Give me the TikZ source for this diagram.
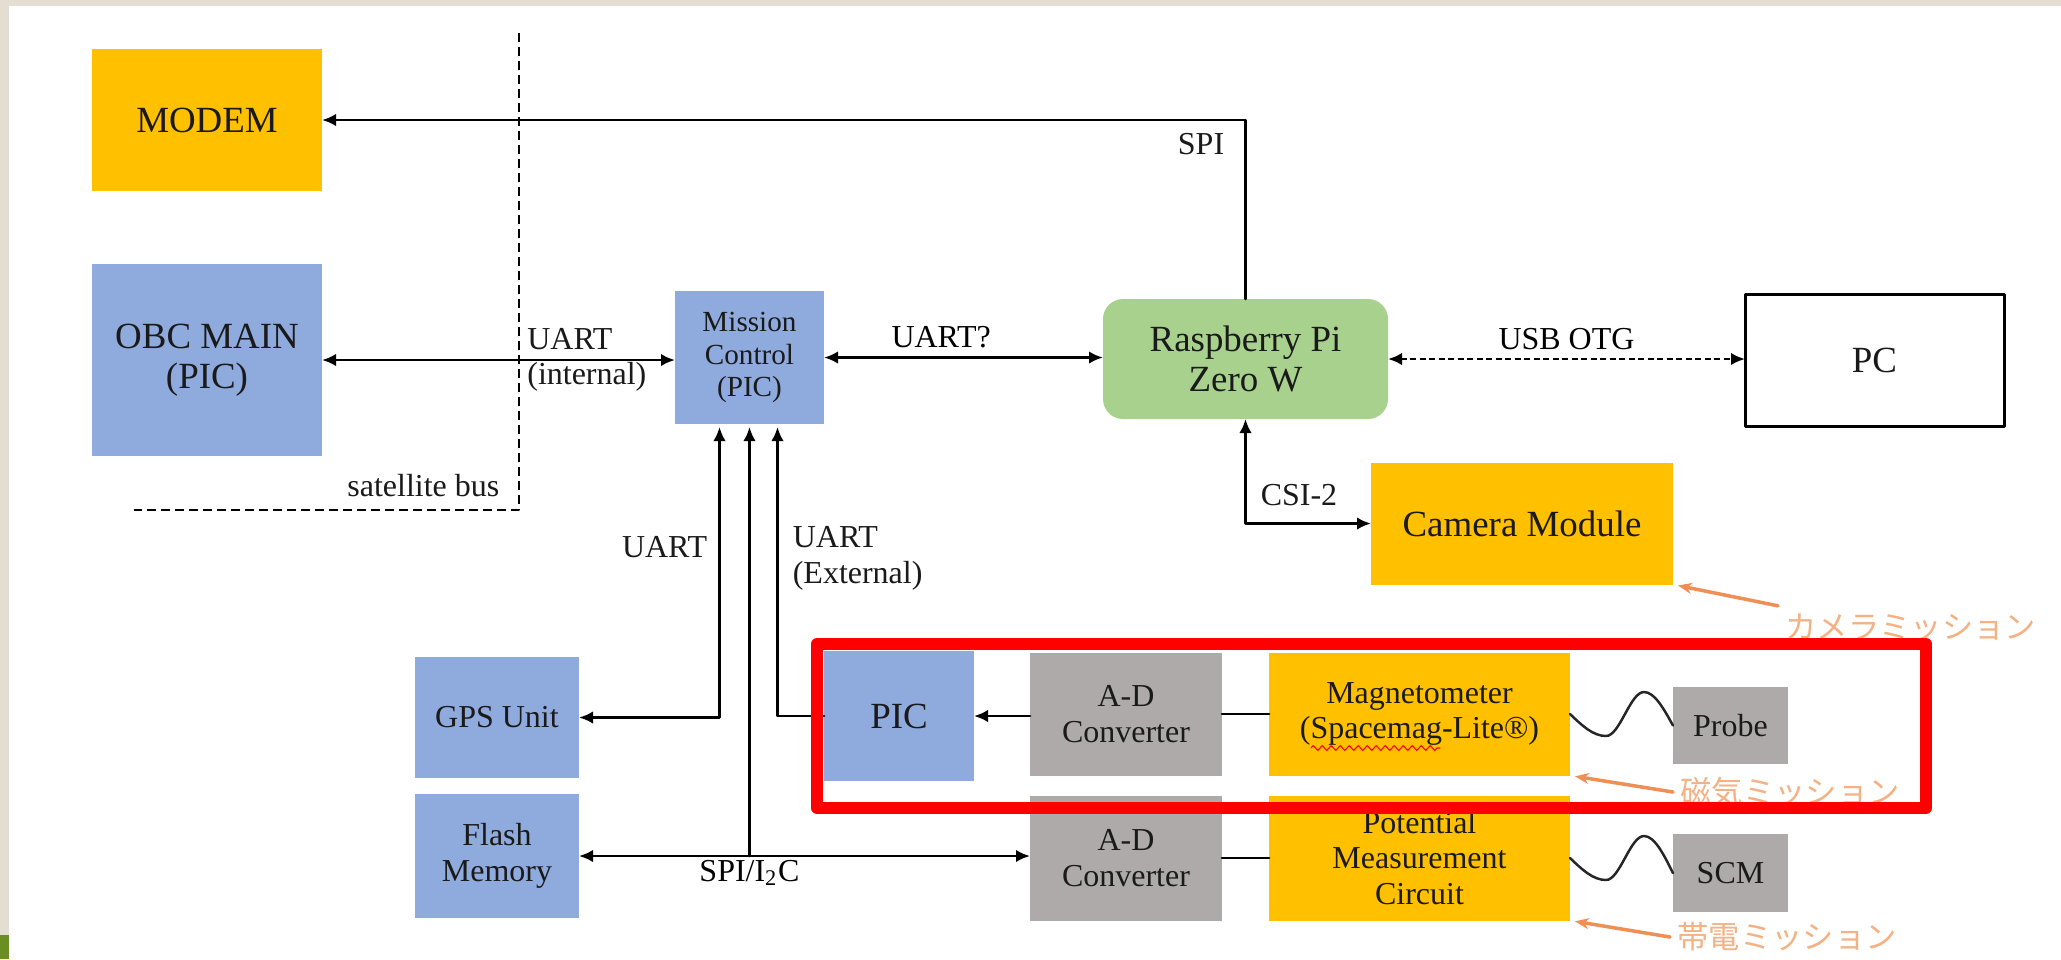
\documentclass[tikz,border=0pt]{standalone}
\usepackage{fontspec}
\setmainfont{Liberation Serif}
\newfontfamily\jpfont{Noto Sans CJK JP}
\usepackage{tikz}
\usetikzlibrary{arrows.meta,positioning,calc,decorations.pathmorphing}
\definecolor{amber}{HTML}{FFC000}
\definecolor{picblue}{HTML}{8FAADC}
\definecolor{rpigreen}{HTML}{A9D18E}
\definecolor{adcgray}{HTML}{AEAAAA}
\definecolor{alertred}{HTML}{FF0000}
\definecolor{notetext}{HTML}{F4B183}
\definecolor{noteline}{HTML}{EF8F55}
\definecolor{slidebeige}{HTML}{E4DDD2}
\definecolor{slidegreen}{HTML}{6B8E23}
\definecolor{ink}{HTML}{1A1A1A}
\newcommand{\boxfont}{\fontsize{10.5pt}{11.4pt}\selectfont}
\newcommand{\labelfont}{\fontsize{9.1pt}{10.1pt}\selectfont}
\newcommand{\mcfont}{\fontsize{8.3pt}{9.2pt}\selectfont}
\newcommand{\notefont}{\fontsize{8.9pt}{10pt}\selectfont}
\tikzset{
    every picture/.style={line cap=round,line join=round},
    unitbox/.style={inner sep=0pt,outer sep=0pt,align=center,
      font=\labelfont,text=ink},
    bigbox/.style={unitbox,font=\boxfont},
    plainlink/.style={draw=black,line width=0.75pt},
    wavelink/.style={draw=black!85,line width=0.7pt},
    buslabel/.style={font=\labelfont,inner sep=0pt,align=left,text=ink},
    busline/.style={draw=black,line width=0.6pt,line cap=butt,
      dash pattern=on 0.9mm off 0.5mm},
    usbline/.style={line cap=butt,dash pattern=on 0.6mm off 0.35mm},
    notelabel/.style={font=\notefont,text=notetext,inner sep=0.7mm},
    notearrow/.style={-{Stealth[length=1.4mm,width=1.1mm]},draw=noteline,
      line width=0.35mm,shorten >=0.5mm}
}
\begin{document}
\begin{tikzpicture}[x=0.1mm,y=-0.1mm,>={Latex[length=1.4mm,width=1.25mm]}]
  % slide frame
  \useasboundingbox (0,0) rectangle (2061,959);
  \fill[white] (0,0) rectangle (2061,959);
  \fill[slidebeige] (0,0) rectangle (2061,6);
  \fill[slidebeige] (0,0) rectangle (9,935);
  \fill[slidegreen] (0,935) rectangle (9,959);

  % satellite bus boundary
  \coordinate (bustop) at (519,33);
  \coordinate (buscorner) at (519,510);
  \coordinate (busend) at (134,510);
  \draw[busline] (bustop) -- (buscorner) -- (busend);
  \node[buslabel,anchor=south east,xshift=-1.9mm,yshift=1.3mm] (buslbl) at (buscorner) {satellite bus};

  % units
  \node[bigbox,fill=amber,minimum width=23mm,minimum height=14.2mm] (modem) at (207,120) {MODEM};
  \node[bigbox,fill=picblue,minimum width=23mm,minimum height=19.2mm] (obc) at (207,360) {OBC MAIN\\(PIC)};
  \node[unitbox,font=\mcfont,fill=picblue,minimum width=14.9mm,minimum height=13.3mm] (mc) at (749.5,357.5) {Mission\\Control\\(PIC)};
  \node[bigbox,fill=rpigreen,rounded corners=2mm,minimum width=28.5mm,minimum height=12mm] (rpi) at (1245.5,359) {Raspberry Pi\\Zero W};
  \node[bigbox,draw=black,line width=0.3mm,fill=white,minimum width=25.9mm,minimum height=13.2mm] (pc) at (1874.5,360) {PC};
  \node[bigbox,fill=amber,minimum width=30.2mm,minimum height=12.2mm] (cam) at (1522,523.5) {Camera Module};
  \node[unitbox,fill=picblue,minimum width=16.4mm,minimum height=12.1mm] (gps) at (497,717.5) {GPS Unit};
  \node[unitbox,fill=picblue,minimum width=16.4mm,minimum height=12.4mm,below=1.6mm of gps] (flash) {Flash\\Memory};
  \node[bigbox,fill=picblue,minimum width=15mm,minimum height=13mm] (pic) at (899,716) {PIC};
  \node[unitbox,fill=adcgray,minimum width=19.2mm,minimum height=12.3mm] (adc1) at (1126,714) {A-D\\Converter};
  \node[unitbox,fill=amber,minimum width=30.1mm,minimum height=12.3mm,right=4.7mm of adc1] (mag) {Magnetometer\\(Spacemag-Lite®)};
  \node[unitbox,fill=adcgray,minimum width=11.5mm,minimum height=7.7mm,right=10.3mm of mag,yshift=-1.15mm] (probe) {Probe};
  \node[unitbox,fill=adcgray,minimum width=19.2mm,minimum height=12.5mm,below=2mm of adc1] (adc2) {A-D\\Converter};
  \node[unitbox,fill=amber,minimum width=30.1mm,minimum height=12.5mm,below=2mm of mag] (pmc) {Potential\\Measurement\\Circuit};
  \node[unitbox,fill=adcgray,minimum width=11.5mm,minimum height=7.8mm,right=10.3mm of pmc,yshift=-1.5mm] (scm) {SCM};

  % links
  \draw[->,plainlink] (rpi.north) |- (modem.east)
    node[pos=0.5,anchor=north east,buslabel,xshift=-2mm,yshift=-1.2mm] (spilbl) {SPI};
  \draw[<->,plainlink] (obc.east) -- (obc.east -| mc.west)
    node[pos=0.578,anchor=west,buslabel] (uartin) {UART\\(internal)};
  \draw[<->,plainlink] (mc.east) -- (mc.east -| rpi.west)
    node[pos=0.42,above,inner sep=0.8mm,font=\labelfont] (uartq) {UART?};
  \draw[<->,plainlink,usbline] (rpi.east) -- (rpi.east -| pc.west)
    node[midway,above,inner sep=0.8mm,font=\labelfont] (usblbl) {USB OTG};
  \draw[<->,plainlink] (rpi.south) |- (cam.west)
    node[pos=0.5,anchor=south west,buslabel,xshift=1.4mm,yshift=1.6mm] (csilbl) {CSI-2};

  % into Mission Control from below
  \coordinate (mcA) at ([xshift=-3mm]mc.south);
  \coordinate (mcC) at ([xshift=2.8mm]mc.south);
  \draw[<->,plainlink,shorten >=0.3mm] (gps.east) -| (mcA)
    node[pos=0.79,anchor=east,buslabel,xshift=-1.1mm] (uartgps) {UART};
  \draw[->,plainlink,shorten >=0.3mm] (pic.west) -| (mcC)
    node[pos=0.77,anchor=west,buslabel,xshift=1.4mm] (uartex) {UART\\(External)};
  \draw[<->,plainlink] (flash.east) -- (flash.east -| adc2.west);
  \draw[->,plainlink,shorten >=0.3mm] (mc.south |- flash.east) -- (mc.south);
  \node[anchor=north,font=\labelfont,inner sep=0.4mm] (spii2c) at (mc.south |- flash.east) {SPI/I\textsubscript{2}C};

  % mission chains
  \draw[->,plainlink] (adc1.west |- pic.east) -- (pic.east);
  \draw[plainlink] (adc1.east) -- (mag.west);
  \draw[plainlink] (adc2.east) -- (pmc.west);
  \draw[wavelink] (mag.east) sin ++(36,22) cos ++(19,-22) sin ++(19,-22) cos (probe.west);
  \draw[wavelink] (pmc.east) sin ++(36,22) cos ++(19,-22) sin ++(19,-22) cos (scm.west);
  \draw[alertred,line width=0.3pt,decorate,decoration={zigzag,segment length=0.9mm,amplitude=0.25mm}] (1311,748) -- (1440,748);

  % mission notes
  \node[notelabel,anchor=west] (camnote) at (1778,627) {\jpfont カメラミッション};
  \node[notelabel,anchor=west] (magnote) at (1673,792) {\jpfont 磁気ミッション};
  \node[notelabel,anchor=west] (chgnote) at (1670,937) {\jpfont 帯電ミッション};
  \draw[notearrow] (camnote.north west) -- (cam.south east);
  \draw[notearrow] (magnote.west) -- (mag.south east);
  \draw[notearrow] (chgnote.west) -- (pmc.south east);

  % highlight
  \draw[alertred,line width=1.2mm,line join=round] (817,644) rectangle (1926,808);
\end{tikzpicture}
\end{document}
